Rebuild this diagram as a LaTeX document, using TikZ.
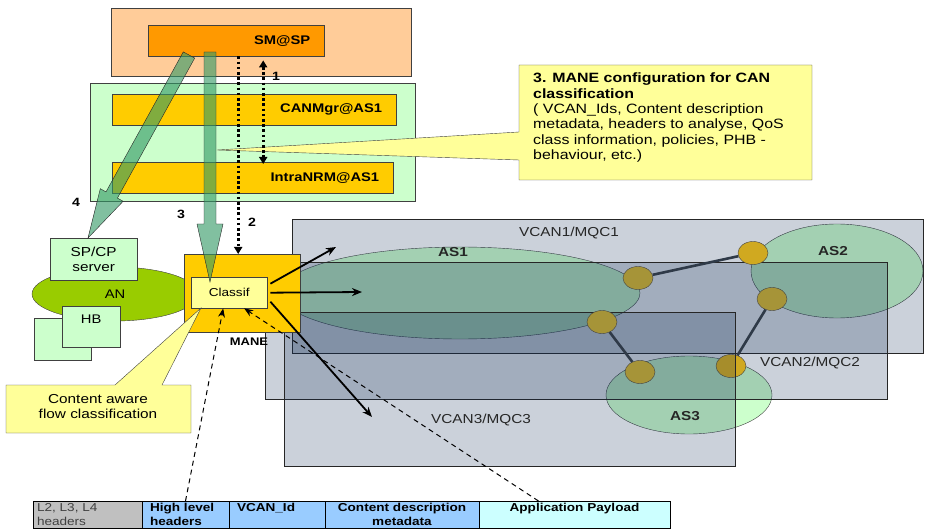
\documentclass[tikz,border=0pt]{standalone}
\usepackage{fontspec}
\setmainfont{Liberation Sans}[FakeStretch=1.18]
\usepackage{tikz}
\usetikzlibrary{arrows.meta}
\usetikzlibrary{shapes.geometric}
\usetikzlibrary{positioning}
\definecolor{peach}{HTML}{FFCC99}
\definecolor{smorange}{HTML}{FF9900}
\definecolor{boxgreen}{HTML}{CCFFCC}
\definecolor{mgryellow}{HTML}{FFCC00}
\definecolor{noteyellow}{HTML}{FFFF99}
\definecolor{angreen}{HTML}{99CC00}
\definecolor{flowgreen}{HTML}{339966}
\definecolor{vcanshade}{HTML}{122D56}
\definecolor{goldbright}{HTML}{D0A920}
\definecolor{golddark}{HTML}{A69438}
\definecolor{linkgray}{HTML}{2F3A48}
\definecolor{hdrgray}{HTML}{C0C0C0}
\definecolor{hdrblue}{HTML}{99CCFF}
\definecolor{hdrcyan}{HTML}{CCFFFF}
\newcommand{\txtsize}[2]{\fontsize{#1}{#2}\selectfont}
\tikzset{
    plain_box/.style = {draw=black!75, thin, inner sep=0pt},
    area_box/.style = {plain_box, anchor=north west},
    mgr_box/.style = {area_box, fill=mgryellow, align=right, inner xsep=14pt, font=\bfseries\txtsize{12.5}{14}},
    green_box/.style = {area_box, fill=boxgreen, align=center, font=\txtsize{13}{15}},
    note/.style = {draw=black!75, thin, fill=noteyellow},
    note_text/.style = {inner sep=0pt, align=left, font=\txtsize{13.5}{15.3}},
    big_arrow/.style = {draw=black!85, thin, fill=flowgreen, fill opacity=0.62},
    sig_line/.style = {line width=2.6pt, dash pattern=on 2.6pt off 2.6pt, >={Triangle[length=7pt,width=8pt]}},
    num/.style = {inner sep=0pt, font=\bfseries\txtsize{12}{14}},
    as_cloud/.style = {ellipse, draw=black!75, thin, fill=boxgreen, inner sep=0pt},
    vcan_box/.style = {area_box, draw=black!85, fill=vcanshade, fill opacity=0.22},
    vcan_label/.style = {inner sep=0pt, text=black!85, font=\txtsize{13}{15}},
    as_label/.style = {inner sep=0pt, text=black!85, font=\bfseries\txtsize{13}{15}},
    gw/.style = {ellipse, draw=black!75, thin, fill=golddark, minimum width=30pt, minimum height=23pt, inner sep=0pt},
    link/.style = {line width=2.6pt, draw=linkgray},
    flow/.style = {line width=1.8pt, ->, >={Stealth[length=10pt,width=8pt]}},
    hdr_link/.style = {line width=1pt, dash pattern=on 5pt off 4pt, ->, >={Stealth[length=9pt,width=7pt]}},
    cell/.style = {draw=black, line width=1pt, outer sep=0pt, inner ysep=0pt, minimum height=27pt, font=\txtsize{11.5}{13.5}}
}

\begin{document}
\begin{tikzpicture}[x=1pt, y=-1pt]
    \useasboundingbox (0,0) rectangle (926,529);

    % service provider and AS1 managers
    \node[area_box, fill=peach, minimum width=300pt, minimum height=68pt] (sp_area) at (111,8) {};
    \node[mgr_box, fill=smorange, text width=148pt, minimum height=31pt] (sm) at (148,25) {SM@SP};
    \node[area_box, fill=boxgreen, minimum width=325pt, minimum height=118pt] (as_area) at (90,83) {};
    \node[mgr_box, text width=256pt, minimum height=31pt] (canmgr) at (112,94) {CANMgr@AS1};
    \node[mgr_box, text width=253pt, minimum height=31pt] (nrm) at (112,162) {IntraNRM@AS1};

    \draw[note] (519,65) -- (812,65) -- (812,180) -- (519,180) -- (519,160) -- (217,150) -- (519,132) -- cycle;
    \node[note_text, anchor=north west] (cfg) at (533,73)
        {\textbf{3. MANE configuration for CAN}\\\textbf{classification}\\( VCAN\_Ids, Content description\\metadata, headers to analyse, QoS\\class information, policies, PHB -\\behaviour, etc.)};

    % access network
    \node[ellipse, plain_box, fill=angreen, minimum width=166pt, minimum height=54pt, font=\txtsize{12.5}{14}] (an) at (115,294) {AN};
    \node[green_box, minimum width=87pt, minimum height=42pt] (server) at (50,238) {SP/CP\\server};
    \node[area_box, fill=boxgreen, minimum width=57pt, minimum height=42pt] (hb_back) at (34,318) {};
    \node[area_box, fill=boxgreen, minimum width=58pt, minimum height=41pt] (hb) at (62,306) {};
    \node[below=9pt of hb.north, inner sep=0pt, font=\txtsize{12.5}{14}] (hb_text) {HB};

    % autonomous systems and VCANs
    \node[as_cloud, minimum width=360pt, minimum height=92pt] (as1) at (460,293) {};
    \node[as_cloud, minimum width=172pt, minimum height=94pt] (as2) at (837,271) {};
    \node[as_cloud, minimum width=166pt, minimum height=78pt] (as3) at (689,395) {};
    \node[vcan_box, minimum width=631pt, minimum height=134pt] (vcan1) at (292,219) {};
    \node[vcan_box, minimum width=622pt, minimum height=137pt] (vcan2) at (265,262) {};
    \node[gw, fill=goldbright] (g2) at (753,253) {};
    \node[gw, fill=goldbright] (g6) at (731,366) {};
    \node[vcan_box, minimum width=451pt, minimum height=154pt] (vcan3) at (284,312) {};
    \node[gw] (g1) at (638,278) {};
    \node[gw] (g3) at (602,322) {};
    \node[gw] (g4) at (772,299) {};
    \node[gw] (g5) at (640,372) {};
    \draw[link] (g1) -- (g2);
    \draw[link] (g3) -- (g5);
    \draw[link] (g4) -- (g6);
    \node[as_label] (as1_text) at (453,252) {AS1};
    \node[as_label] (as2_text) at (833,251) {AS2};
    \node[as_label] (as3_text) at (685,416) {AS3};
    \node[vcan_label] (vcan1_text) at (569,233) {VCAN1/MQC1};
    \node[vcan_label] (vcan2_text) at (810,363) {VCAN2/MQC2};
    \node[vcan_label] (vcan3_text) at (481,420) {VCAN3/MQC3};

    % MANE
    \node[area_box, fill=mgryellow, minimum width=116pt, minimum height=78pt] (mane) at (184,254) {};
    \node[area_box, fill=noteyellow, minimum width=76pt, minimum height=31pt, font=\txtsize{11.5}{13}] (classif) at (191,277) {Classif};
    \node[inner sep=0pt, font=\bfseries\txtsize{11}{13}] (mane_text) at (249,342) {MANE};

    \draw[big_arrow] (183.3,51.9) -- (194.7,58.1) -- (117.4,198.1) -- (123.1,201.3) -- (88,238) -- (100.3,188.7) -- (106.0,191.9) -- cycle;
    \draw[big_arrow] (204,52) -- (216,52) -- (216,224) -- (223,224) -- (210,282) -- (197,224) -- (204,224) -- cycle;
    \draw[sig_line, <->] ([shift={(27pt,-4pt)}]sm.south) -- ([shift={(10.5pt,-2pt)}]nrm.north);
    \draw[sig_line, ->] ([xshift=2pt]sm.south) -- ([xshift=-4pt]mane.north);
    \node[num] (n1) at (276,76) {1};
    \node[num] (n2) at (252,222) {2};
    \node[num] (n3) at (181,214) {3};
    \node[num] (n4) at (76,202) {4};

    \coordinate (out_up) at (336,247);
    \coordinate (out_mid) at (362,292);
    \coordinate (out_down) at (372,417);
    \draw[flow] ([shift={(3pt,9pt)}]classif.east) -- (out_up);
    \draw[flow] ([xshift=3pt]classif.east) -- (out_mid);
    \draw[flow] ([shift={(3pt,-9pt)}]classif.east) -- (out_down);

    % packet format
    \node[cell, fill=hdrgray, text=black!75, inner xsep=4pt, text width=101pt, align=left, anchor=north west] (l24) at (33,501) {L2, L3, L4\\headers};
    \node[cell, fill=hdrblue, font=\bfseries\txtsize{11.5}{13.5}, inner xsep=8pt, text width=71pt, align=left, right=0pt of l24] (hl) {High level\\headers};
    \node[cell, fill=hdrblue, font=\bfseries\txtsize{11.5}{13.5}, inner xsep=8pt, text width=80pt, align=left, right=0pt of hl] (vid) {VCAN\_Id\\~};
    \node[cell, fill=hdrblue, font=\bfseries\txtsize{11.5}{13.5}, inner xsep=4pt, text width=146pt, align=center, right=0pt of vid] (cdm) {Content description\\metadata};
    \node[cell, fill=hdrcyan, font=\bfseries\txtsize{11.5}{13.5}, inner xsep=4pt, text width=183pt, align=center, right=0pt of cdm] (app) {Application Payload\\~};

    \draw[hdr_link] (hl.north) -- ([xshift=-6pt]classif.south);
    \draw[hdr_link] ([xshift=-36pt]app.north) -- ([xshift=15pt]classif.south);

    \draw[note] (6,385) -- (115,385) -- (201,308) -- (162,385) -- (191,385) -- (191,433) -- (6,433) -- cycle;
    \node[align=center, font=\txtsize{13}{15}] (flow_note) at (98,407) {Content aware\\flow classification};
\end{tikzpicture}
\end{document}
